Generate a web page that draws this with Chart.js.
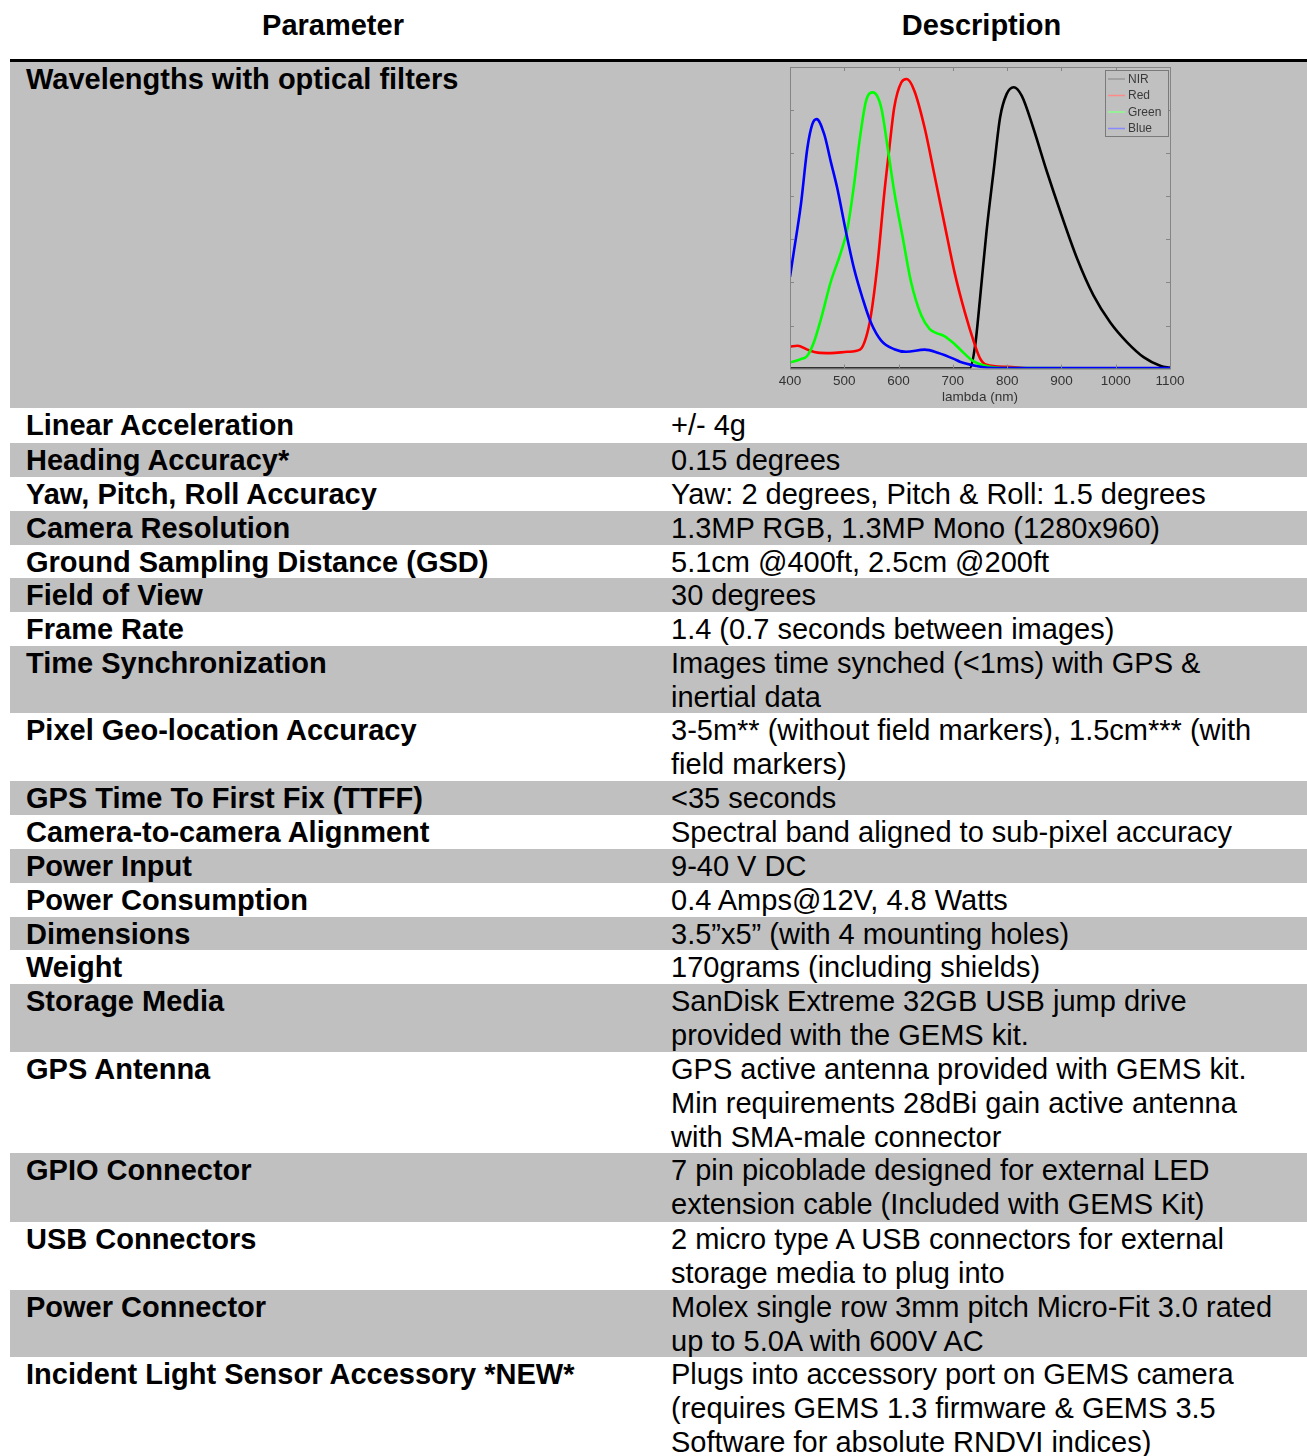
<!DOCTYPE html>
<html>
<head>
<meta charset="utf-8">
<title>GEMS specifications</title>
<script src="https://cdn.jsdelivr.net/npm/chart.js@4.4.1/dist/chart.umd.min.js"></script>
<style>
  body { margin: 0; background: #fff; font-family: "Liberation Sans", Arial, sans-serif; }
  .sheet { position: relative; width: 1307px; height: 1456px; overflow: hidden;
           font-size: 29px; line-height: 34px; color: #000; }
  .row { position: absolute; left: 10px; width: 1297px; }
  .row.g { background: #c0c0c0; }
  .p, .d { position: absolute; top: 0; white-space: nowrap; }
  .p { left: 16px; font-weight: bold; }
  .d { left: 661px; }
  .hd { position: absolute; top: 8px; font-weight: bold; text-align: center; }
  .rule { position: absolute; left: 10px; top: 59px; width: 1297px; height: 3px; background: #000; }
  #chartBox { position: absolute; left: 765px; top: 63px; width: 440px; height: 342px; }
</style>
</head>
<body>
<div class="sheet">
  <div class="hd" style="left:10px;width:646px">Parameter</div>
  <div class="hd" style="left:656px;width:651px">Description</div>
  <div class="rule"></div>

  <div class="row g" style="top:62px;height:346px"><div class="p">Wavelengths with optical filters</div></div>
  <div class="row" style="top:408px;height:35px"><div class="p">Linear Acceleration</div><div class="d">+/- 4g</div></div>
  <div class="row g" style="top:443px;height:34px"><div class="p">Heading Accuracy*</div><div class="d">0.15 degrees</div></div>
  <div class="row" style="top:477px;height:34px"><div class="p">Yaw, Pitch, Roll Accuracy</div><div class="d">Yaw: 2 degrees, Pitch &amp; Roll: 1.5 degrees</div></div>
  <div class="row g" style="top:511px;height:34px"><div class="p">Camera Resolution</div><div class="d">1.3MP RGB, 1.3MP Mono (1280x960)</div></div>
  <div class="row" style="top:545px;height:33px"><div class="p">Ground Sampling Distance (GSD)</div><div class="d">5.1cm @400ft, 2.5cm @200ft</div></div>
  <div class="row g" style="top:578px;height:34px"><div class="p">Field of View</div><div class="d">30 degrees</div></div>
  <div class="row" style="top:612px;height:34px"><div class="p">Frame Rate</div><div class="d">1.4 (0.7 seconds between images)</div></div>
  <div class="row g" style="top:646px;height:67px"><div class="p">Time Synchronization</div><div class="d">Images time synched (&lt;1ms) with GPS &amp;<br>inertial data</div></div>
  <div class="row" style="top:713px;height:68px"><div class="p">Pixel Geo-location Accuracy</div><div class="d">3-5m** (without field markers), 1.5cm*** (with<br>field markers)</div></div>
  <div class="row g" style="top:781px;height:34px"><div class="p">GPS Time To First Fix (TTFF)</div><div class="d">&lt;35 seconds</div></div>
  <div class="row" style="top:815px;height:34px"><div class="p">Camera-to-camera Alignment</div><div class="d">Spectral band aligned to sub-pixel accuracy</div></div>
  <div class="row g" style="top:849px;height:34px"><div class="p">Power Input</div><div class="d">9-40 V DC</div></div>
  <div class="row" style="top:883px;height:34px"><div class="p">Power Consumption</div><div class="d">0.4 Amps@12V, 4.8 Watts</div></div>
  <div class="row g" style="top:917px;height:33px"><div class="p">Dimensions</div><div class="d">3.5”x5” (with 4 mounting holes)</div></div>
  <div class="row" style="top:950px;height:34px"><div class="p">Weight</div><div class="d">170grams (including shields)</div></div>
  <div class="row g" style="top:984px;height:68px"><div class="p">Storage Media</div><div class="d">SanDisk Extreme 32GB USB jump drive<br>provided with the GEMS kit.</div></div>
  <div class="row" style="top:1052px;height:101px"><div class="p">GPS Antenna</div><div class="d">GPS active antenna provided with GEMS kit.<br>Min requirements 28dBi gain active antenna<br>with SMA-male connector</div></div>
  <div class="row g" style="top:1153px;height:69px"><div class="p">GPIO Connector</div><div class="d">7 pin picoblade designed for external LED<br>extension cable (Included with GEMS Kit)</div></div>
  <div class="row" style="top:1222px;height:68px"><div class="p">USB Connectors</div><div class="d">2 micro type A USB connectors for external<br>storage media to plug into</div></div>
  <div class="row g" style="top:1290px;height:67px"><div class="p">Power Connector</div><div class="d">Molex single row 3mm pitch Micro-Fit 3.0 rated<br>up to 5.0A with 600V AC</div></div>
  <div class="row" style="top:1357px;height:102px"><div class="p">Incident Light Sensor Accessory *NEW*</div><div class="d">Plugs into accessory port on GEMS camera<br>(requires GEMS 1.3 firmware &amp; GEMS 3.5<br>Software for absolute RNDVI indices)</div></div>

  <div id="chartBox"><canvas id="filterChart"></canvas></div>
</div>

<script>
// filter response curves (wavelength nm / relative response)
const seriesNames = ['NIR', 'Red', 'Green', 'Blue'];

const nirNm  = [400, 731, 741, 750, 762, 775, 787, 799, 812, 827, 848, 873, 898, 929, 959, 990, 1021, 1052, 1083, 1100];
const nirVal = [0, 0, 0.53, 1.62, 3.18, 4.58, 5.83, 6.37, 6.53, 6.33, 5.59, 4.58, 3.64, 2.55, 1.70, 1.07, 0.61, 0.26, 0.06, 0.02];

const redNm  = [400, 414, 432, 451, 475, 506, 529, 540, 549, 561, 574, 583, 592, 605, 615, 629, 648, 666, 685, 703, 722, 740, 750, 762, 800, 850, 1100];
const redVal = [0.51, 0.53, 0.44, 0.37, 0.36, 0.39, 0.44, 0.72, 1.23, 2.40, 4.11, 5.12, 6.06, 6.64, 6.72, 6.45, 5.59, 4.50, 3.33, 2.24, 1.31, 0.57, 0.24, 0.09, 0.04, 0, 0];

const greenNm  = [400, 420, 432, 444, 457, 475, 494, 506, 518, 528, 540, 553, 568, 580, 592, 608, 623, 642, 657, 669, 685, 703, 713, 737, 762, 800, 1100];
const greenVal = [0.14, 0.22, 0.30, 0.61, 1.15, 2.01, 2.71, 3.26, 4.27, 5.28, 6.21, 6.41, 6.06, 5.12, 4.11, 3.02, 2.01, 1.23, 0.92, 0.83, 0.75, 0.57, 0.45, 0.18, 0.06, 0.01, 0];

const blueNm  = [400, 407, 420, 432, 441, 449, 463, 475, 487, 503, 518, 534, 549, 568, 592, 614, 648, 672, 703, 713, 744, 765, 850, 1100];
const blueVal = [2.13, 2.71, 3.80, 5.12, 5.67, 5.79, 5.44, 4.81, 4.19, 3.18, 2.32, 1.62, 1.07, 0.65, 0.45, 0.39, 0.44, 0.37, 0.22, 0.16, 0.06, 0.02, 0.01, 0.01];

const lineColors   = ['#000000', '#ff0000', '#00ff00', '#0000ff'];
const legendColors = ['#999999', '#ff8a8a', '#8aff8a', '#8a8aff'];
const xTicks = [400, 500, 600, 700, 800, 900, 1000, 1100];

const axisFont = { size: 13.5, family: '"Liberation Sans", Arial, sans-serif' };

function toPoints(xs, ys) {
  return xs.map((x, i) => ({ x: x, y: ys[i] }));
}

// matlab style frame with inward ticks + legend box in upper right
const matlabFrame = {
  id: 'matlabFrame',
  afterDraw(chart) {
    const ctx = chart.ctx;
    const a = chart.chartArea;
    const xs = chart.scales.x, ys = chart.scales.y;
    ctx.save();
    ctx.strokeStyle = '#858585';
    ctx.lineWidth = 1;
    ctx.strokeRect(a.left + 0.5, a.top + 0.5, a.right - a.left, a.bottom - a.top);
    ctx.beginPath();
    xTicks.forEach(v => {
      const px = Math.round(xs.getPixelForValue(v)) + 0.5;
      ctx.moveTo(px, a.top); ctx.lineTo(px, a.top + 4);
      ctx.moveTo(px, a.bottom); ctx.lineTo(px, a.bottom - 4);
    });
    for (let v = 1; v < 7; v++) {
      const py = Math.round(ys.getPixelForValue(v)) + 0.5;
      ctx.moveTo(a.left, py); ctx.lineTo(a.left + 4, py);
      ctx.moveTo(a.right, py); ctx.lineTo(a.right - 4, py);
    }
    ctx.stroke();

    // legend
    const bw = 63, bh = 66;
    const bx = a.right - 65, by = a.top + 3;
    ctx.fillStyle = '#c0c0c0';
    ctx.fillRect(bx, by, bw, bh);
    ctx.strokeStyle = '#7a7a7a';
    ctx.strokeRect(bx + 0.5, by + 0.5, bw, bh);
    ctx.font = '12px "Liberation Sans", Arial, sans-serif';
    ctx.textBaseline = 'middle';
    chart.data.datasets.forEach((ds, i) => {
      const cy = by + 9 + i * 16.5;
      ctx.strokeStyle = legendColors[i];
      ctx.lineWidth = 1.5;
      ctx.beginPath();
      ctx.moveTo(bx + 3, cy); ctx.lineTo(bx + 20, cy);
      ctx.stroke();
      ctx.fillStyle = '#3a3a3a';
      ctx.fillText(ds.label, bx + 23, cy + 0.5);
    });
    ctx.restore();
  }
};

new Chart(document.getElementById('filterChart'), {
  type: 'scatter',
  data: {
    datasets: [
      { label: seriesNames[0], data: toPoints(nirNm, nirVal), order: 3 },
      { label: seriesNames[1], data: toPoints(redNm, redVal), order: 2 },
      { label: seriesNames[2], data: toPoints(greenNm, greenVal), order: 1 },
      { label: seriesNames[3], data: toPoints(blueNm, blueVal), order: 0 }
    ].map((ds, i) => Object.assign(ds, {
      showLine: true,
      borderColor: lineColors[i],
      backgroundColor: lineColors[i],
      borderWidth: 2.6,
      pointRadius: 0,
      cubicInterpolationMode: 'monotone'
    }))
  },
  options: {
    responsive: true,
    maintainAspectRatio: false,
    animation: false,
    layout: { padding: { left: 25, right: 35, top: 4, bottom: 0 } },
    plugins: { legend: { display: false }, tooltip: { enabled: false } },
    scales: {
      x: {
        type: 'linear', min: 400, max: 1100,
        afterBuildTicks: axis => { axis.ticks = xTicks.map(v => ({ value: v })); },
        grid: { display: false, drawTicks: false },
        border: { display: false },
        ticks: { padding: 5, color: '#333', font: axisFont, callback: v => String(v) },
        title: { display: true, text: 'lambda (nm)', color: '#333', padding: { top: -6, bottom: 0 },
                 font: axisFont }
      },
      y: { display: false, min: 0, max: 7 }
    }
  },
  plugins: [matlabFrame]
});
</script>
</body>
</html>
